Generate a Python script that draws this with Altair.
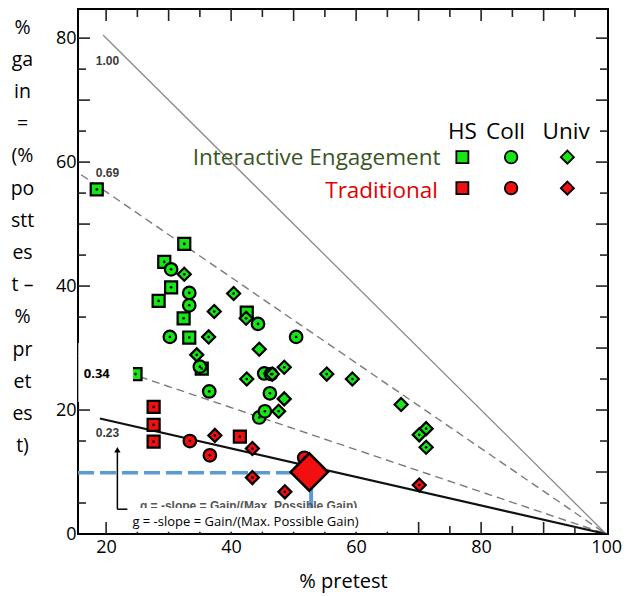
import altair as alt
import pandas as pd

# ---------------- data ----------------
ie_hs_x = [18.5, 32.5, 29.3, 30.4, 28.4, 32.4, 33.3, 35.3, 24.7, 42.5]
ie_hs_y = [55.6, 46.8, 43.9, 39.8, 37.6, 34.8, 31.7, 26.7, 25.8, 35.7]
ie_coll_x = [30.4, 33.3, 33.3, 30.2, 35.0, 44.3, 50.4, 45.3, 46.4, 36.5, 46.2, 44.5, 45.4]
ie_coll_y = [42.7, 38.9, 36.9, 31.8, 27.0, 33.9, 31.8, 25.9, 25.8, 23.0, 22.7, 18.8, 19.8]
ie_univ_x = [32.5, 40.4, 37.3, 42.4, 36.4, 44.5, 34.5, 48.5, 42.5, 46.6, 48.5, 47.6, 55.3, 59.4, 67.2, 71.2, 70.1, 71.2]
ie_univ_y = [41.9, 38.8, 35.9, 34.8, 31.8, 29.8, 28.9, 26.9, 25.0, 25.8, 21.8, 19.8, 25.8, 25.0, 20.9, 17.0, 16.0, 14.0]
ie_univ_dot = [1, 1, 1, 1, 1, 0, 1, 1, 1, 1, 0, 1, 1, 1, 0, 1, 1, 1]

tr_hs_x = [27.6, 27.6, 27.6, 41.4]
tr_hs_y = [20.5, 17.6, 14.9, 15.7]
tr_coll_x = [33.4, 36.6, 51.7]
tr_coll_y = [15.0, 12.7, 12.3]
tr_univ_x = [37.4, 43.4, 43.4, 48.6, 70.1]
tr_univ_y = [15.9, 13.8, 9.1, 6.8, 7.9]

avg_trad_x = [52.5]
avg_trad_y = [10.0]

g_values = [1.00, 0.69, 0.34, 0.23]
g_labels = ["1.00", "0.69", "", "0.23"]
g_start_x = [19.5, 16.0, 15.5, 19.0]

groups = ["Interactive Engagement", "Traditional"]
levels = ["HS", "Coll", "Univ"]

x_tick_values = [20, 25, 30, 35, 40, 45, 50, 55, 60, 65, 70, 75, 80, 85, 90, 95]
y_tick_values = [5, 10, 15, 20, 25, 30, 35, 40, 45, 50, 55, 60, 65, 70, 75, 80]
x_axis_labels = [20, 40, 60, 80, 100]
y_axis_labels = [0, 20, 40, 60, 80]

y_title_lines = ["%", "ga", "in", "=", "(%", "po", "stt", "es", "t \u2013", "%", "pr", "et", "es", "t)"]
x_title = "% pretest"
formula_text = "g = -slope = Gain/(Max. Possible Gain)"
box034_text = "0.34"

# ---------------- layout / style ----------------
W, H = 530, 525
XD = [15.5, 100.3]
YD = [0.0, 84.7]
PX_X = W / (XD[1] - XD[0])
PX_Y = H / (YD[1] - YD[0])

FONT = "Open Sans"
GREEN = "#16e616"
RED = "#f20f0f"
DARK_GREEN = "#375623"
RED_TEXT = "#e00000"
BLUE = "#5b9bd5"

xs = alt.Scale(domain=XD, nice=False, zero=False)
ys = alt.Scale(domain=YD, nice=False, zero=False)

AX = alt.Axis(
    values=x_axis_labels, title=x_title, grid=False, ticks=False, domain=False,
    labelFont=FONT, labelFontSize=18, labelColor="black", labelPadding=4,
    titleFont=FONT, titleFontSize=20, titleFontWeight="normal", titleColor="black",
    titlePadding=15)
AY = alt.Axis(
    values=y_axis_labels, title=y_title_lines, grid=False, ticks=False, domain=False,
    labelFont=FONT, labelFontSize=18, labelColor="black", labelPadding=2,
    titleFont=FONT, titleFontSize=19.5, titleFontWeight="normal", titleColor="black",
    titleAngle=0, titleAlign="center", titleBaseline="top", titleX=-56, titleY=9,
    titleLineHeight=32.2)


def X(field="x"):
    return alt.X(f"{field}:Q", scale=xs, axis=AX)


def Y(field="y"):
    return alt.Y(f"{field}:Q", scale=ys, axis=AY)


# points table
rows = []
for grp, lvl, xl, yl in [
    (groups[0], "HS", ie_hs_x, ie_hs_y),
    (groups[0], "Coll", ie_coll_x, ie_coll_y),
    (groups[0], "Univ", ie_univ_x, ie_univ_y),
    (groups[1], "HS", tr_hs_x, tr_hs_y),
    (groups[1], "Coll", tr_coll_x, tr_coll_y),
    (groups[1], "Univ", tr_univ_x, tr_univ_y),
]:
    for i, (a, b) in enumerate(zip(xl, yl)):
        dot = ie_univ_dot[i] if (grp == groups[0] and lvl == "Univ") else 1
        rows.append(dict(group=grp, level=lvl, x=a, y=b, dot=dot))
pts = pd.DataFrame(rows)

shape_scale = alt.Scale(domain=levels, range=["square", "circle", "diamond"])
size_scale = alt.Scale(domain=levels, range=[145, 170, 360])
color_scale = alt.Scale(domain=groups, range=[GREEN, RED])


# reference lines g*(100 - x)
def gline(idx):
    g, x0 = g_values[idx], g_start_x[idx]
    return pd.DataFrame({"x": [x0, 100.0], "y": [g * (100 - x0), 0.0]})


line_100 = alt.Chart(gline(0)).mark_line(color="#8a8a8a", strokeWidth=1.3).encode(x=X(), y=Y())
line_069 = alt.Chart(gline(1)).mark_line(color="#7a7a7a", strokeWidth=1.4, strokeDash=[8, 5]).encode(x=X(), y=Y())
line_034 = alt.Chart(gline(2)).mark_line(color="#7a7a7a", strokeWidth=1.4, strokeDash=[8, 5]).encode(x=X(), y=Y())
line_023 = alt.Chart(gline(3)).mark_line(color="#111111", strokeWidth=2.2).encode(x=X(), y=Y())

# inward ticks on all four sides
trows = []
for t in x_tick_values:
    ln = 12 if t % 10 == 0 else 8
    trows.append(dict(x=t, x2=t, y=YD[0], y2=YD[0] + ln / PX_Y))
    trows.append(dict(x=t, x2=t, y=YD[1], y2=YD[1] - ln / PX_Y))
for t in y_tick_values:
    ln = 12 if t % 10 == 0 else 8
    trows.append(dict(x=XD[0], x2=XD[0] + ln / PX_X, y=t, y2=t))
    trows.append(dict(x=XD[1], x2=XD[1] - ln / PX_X, y=t, y2=t))
ticks = alt.Chart(pd.DataFrame(trows)).mark_rule(color="#222222", strokeWidth=1.6).encode(
    x=X(), x2="x2:Q", y=Y(), y2="y2:Q")

# blue guide lines to the traditional average
blue_h = alt.Chart(pd.DataFrame({"x": [XD[0], avg_trad_x[0]], "y": [9.9, 9.9]})).mark_line(
    color=BLUE, strokeWidth=3.5, strokeDash=[16, 6]).encode(x=X(), y=Y())
blue_v = alt.Chart(pd.DataFrame({"x": [52.8], "y": [9.9], "y2": [4.2]})).mark_rule(
    color=BLUE, strokeWidth=4).encode(x=X(), y=Y(), y2="y2:Q")

points = alt.Chart(pts).mark_point(filled=True, stroke="black", strokeWidth=2.2, opacity=1).encode(
    x=X(), y=Y(),
    shape=alt.Shape("level:N", scale=shape_scale, legend=None),
    size=alt.Size("level:N", scale=size_scale, legend=None),
    fill=alt.Fill("group:N", scale=color_scale, legend=None),
)
dots = alt.Chart(pts[pts["dot"] == 1]).mark_circle(color="black", size=7, opacity=1).encode(x=X(), y=Y())

big = alt.Chart(pd.DataFrame({"x": avg_trad_x, "y": avg_trad_y})).mark_point(
    shape="diamond", filled=True, fill=RED, stroke="black", strokeWidth=2.5, size=1400, opacity=1
).encode(x=X(), y=Y())

# line labels
lab = pd.DataFrame({"x": [20.2, 20.2, 20.2], "y": [76.3, 58.3, 16.3], "t": [g_labels[0], g_labels[1], g_labels[3]]})
line_labels = alt.Chart(lab).mark_text(font="Liberation Sans", fontWeight="bold", fontSize=12,
                                       color="#3a3a3a").encode(x=X(), y=Y(), text="t:N")

# arrow of the original figure
arrow_v = alt.Chart(pd.DataFrame({"x": [21.8], "y": [4.0], "y2": [13.2]})).mark_rule(
    color="black", strokeWidth=1.5).encode(x=X(), y=Y(), y2="y2:Q")
arrow_h = alt.Chart(pd.DataFrame({"x": [21.8], "x2": [24.0], "y": [4.0]})).mark_rule(
    color="black", strokeWidth=1.5).encode(x=X(), x2="x2:Q", y=Y())
arrow_head = alt.Chart(pd.DataFrame({"x": [21.8], "y": [13.6]})).mark_point(
    shape="triangle-up", filled=True, color="black", size=40, opacity=1).encode(x=X(), y=Y())

# original (partly hidden) formula text
hidden_txt = alt.Chart(pd.DataFrame({"x": [25.4], "y": [3.9], "t": [formula_text]})).mark_text(
    font="Liberation Sans", fontWeight="bold", fontSize=12, color="#555555", align="left",
    baseline="alphabetic").encode(x=X(), y=Y(), text="t:N")

# white overlay boxes
boxes = alt.Chart(pd.DataFrame({
    "x": [XD[0] + 0.05, 23.4], "x2": [24.3, 68.2], "y": [21.3, 0.35], "y2": [30.8, 4.2]
})).mark_rect(color="white", opacity=1).encode(x=X(), x2="x2:Q", y=Y(), y2="y2:Q")

box_txt = alt.Chart(pd.DataFrame({"x": [24.2], "y": [1.9], "t": [formula_text]})).mark_text(
    font=FONT, fontSize=13, color="black", align="left", baseline="middle"
).encode(x=X(), y=Y(), text="t:N")
box034 = alt.Chart(pd.DataFrame({"x": [18.5], "y": [25.8], "t": [box034_text]})).mark_text(
    font=FONT, fontSize=13, fontWeight="bold", color="black", align="center", baseline="middle"
).encode(x=X(), y=Y(), text="t:N")

# custom legend (2 x 3 grid)
leg_col_x = [77.0, 84.8, 93.8]
leg_row_y = [60.8, 55.8]
leg_head_y = 64.8
leg_rows = []
for gi, grp in enumerate(groups):
    for li, lvl in enumerate(levels):
        leg_rows.append(dict(group=grp, level=lvl, x=leg_col_x[li], y=leg_row_y[gi]))
leg_df = pd.DataFrame(leg_rows)
leg_syms = alt.Chart(leg_df).mark_point(filled=True, stroke="black", strokeWidth=1.8, opacity=1).encode(
    x=X(), y=Y(),
    shape=alt.Shape("level:N", scale=shape_scale, legend=None),
    size=alt.Size("level:N", scale=size_scale, legend=None),
    fill=alt.Fill("group:N", scale=color_scale, legend=None),
)
leg_head = alt.Chart(pd.DataFrame({"x": [77.0, 83.9, 93.6], "y": [leg_head_y] * 3, "t": levels})).mark_text(
    font=FONT, fontSize=22.5, color="black", baseline="middle").encode(x=X(), y=Y(), text="t:N")
leg_ie = alt.Chart(pd.DataFrame({"x": [73.5], "y": [60.7], "t": [groups[0]]})).mark_text(
    font=FONT, fontSize=22.5, color=DARK_GREEN, align="right", baseline="middle").encode(x=X(), y=Y(), text="t:N")
leg_tr = alt.Chart(pd.DataFrame({"x": [73.1], "y": [55.4], "t": [groups[1]]})).mark_text(
    font=FONT, fontSize=22.5, color=RED_TEXT, align="right", baseline="middle").encode(x=X(), y=Y(), text="t:N")

chart = alt.layer(
    line_100, line_069, line_034, line_023, ticks, blue_h, blue_v, points, dots, big, line_labels,
    arrow_v, arrow_h, arrow_head, hidden_txt, boxes, box_txt, box034,
    leg_syms, leg_head, leg_ie, leg_tr,
).properties(
    width=W, height=H,
    autosize=alt.AutoSizeParams(type="none"),
    padding={"left": 70, "top": 1, "right": 16, "bottom": 60},
).configure_view(stroke="black", strokeWidth=2)

chart.save("out.html", embed_options={"renderer": "svg", "actions": False})
